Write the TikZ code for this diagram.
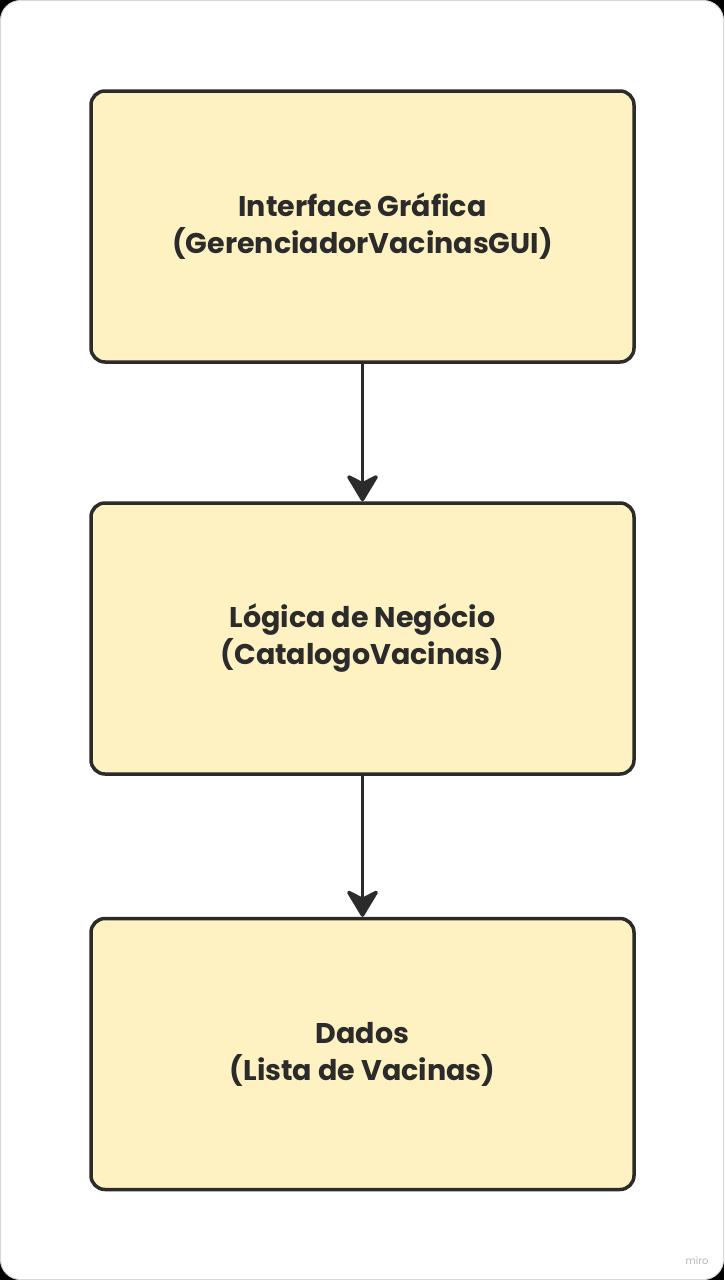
\documentclass[tikz,border=0pt]{standalone}
\usepackage{fontspec}
\setmainfont{Poppins}
\usetikzlibrary{arrows.meta}
\definecolor{boxfill}{HTML}{FEF1C2}
\definecolor{edge}{HTML}{2B2B2B}
\definecolor{framegray}{HTML}{D8D8D8}
\definecolor{mirogray}{HTML}{B8B8B8}
\tikzset{
  layerbox/.style={draw=edge, line width=3.5pt, fill=boxfill, rounded corners=14pt, minimum width=543pt, minimum height=271pt, align=center, font=\fontsize{28.5}{37}\selectfont\bfseries, text=edge, inner sep=0pt},
  flow/.style={draw=edge, line width=3.5pt, -{Stealth[length=30pt, width=36pt, inset=9pt, round]}},
}
\begin{document}
\begin{tikzpicture}[x=1pt, y=-1pt]
\useasboundingbox (0,0) rectangle (724,1280);
\fill[black] (0,0) rectangle (724,1280);
\draw[framegray, fill=white, line width=1pt, rounded corners=20pt] (0.5,0.5) rectangle (723.5,1279.5);
\node[layerbox] (gui) at (362.5,226.5) {Interface Gráfica\\(GerenciadorVacinasGUI)};
\node[layerbox] (logic) at (362.5,638.5) {Lógica de Negócio\\(CatalogoVacinas)};
\node[layerbox] (data) at (362.5,1054) {Dados\\(Lista de Vacinas)};
\draw[flow] (gui) -- (logic);
\draw[flow] (logic) -- (data);
\node[text=mirogray, font=\fontsize{10}{12}\selectfont, anchor=base east] (miro) at (712,1264) {miro};
\end{tikzpicture}
\end{document}
